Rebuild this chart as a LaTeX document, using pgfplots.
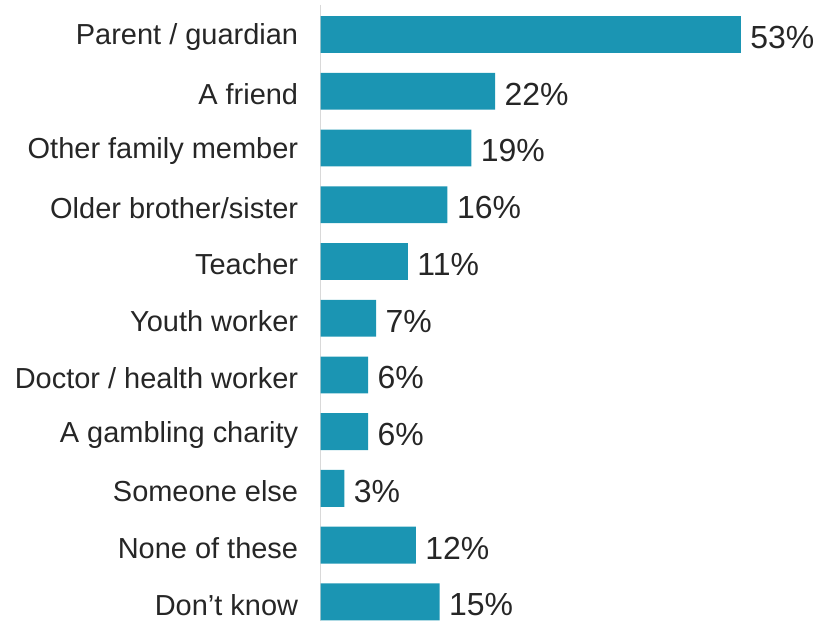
\documentclass[border=0pt]{standalone}
\usepackage{pgfplots}
\pgfplotsset{compat=1.18}
\usepackage{fontspec}
\setmainfont{Liberation Sans}
\definecolor{barblue}{RGB}{27,149,179}
\definecolor{axisgrey}{RGB}{217,217,217}
\definecolor{txt}{RGB}{38,38,38}
\begin{document}
\begin{tikzpicture}
\begin{axis}[
  scale only axis,
  width=476.4bp,
  height=617bp,
  xbar,
  bar width=37bp,
  xmin=0, xmax=60,
  ymin=-0.52, ymax=10.34,
  y dir=reverse,
  axis x line=none,
  axis y line*=left,
  y axis line style={axisgrey, line width=1.6bp, -},
  ytick={0,...,10},
  yticklabels={Parent / guardian, A friend, Other family member, Older brother/sister, Teacher, Youth worker, Doctor / health worker, A gambling charity, Someone else, None of these, Don’t know},
  major tick length=0pt,
  yticklabel style={font=\fontsize{29bp}{34bp}\selectfont, text=txt, xshift=-19bp, yshift=-3bp},
  /pgf/number format/assume math mode=true,
  nodes near coords={\pgfmathprintnumber{\pgfplotspointmeta}\%},
  point meta=x,
  nodes near coords style={font=\fontsize{32bp}{36bp}\selectfont, text=txt, anchor=west, xshift=6bp, yshift=-3bp},
  clip=false,
]
\addplot[fill=barblue, draw=none] coordinates {(53,0) (22,1) (19,2) (16,3) (11,4) (7,5) (6,6) (6,7) (3,8) (12,9) (15,10)};
\end{axis}
\pgfresetboundingbox
\path ([xshift=-321bp,yshift=5bp]current axis.north west) rectangle ([xshift=24.6bp]current axis.south east);
\end{tikzpicture}
\end{document}
